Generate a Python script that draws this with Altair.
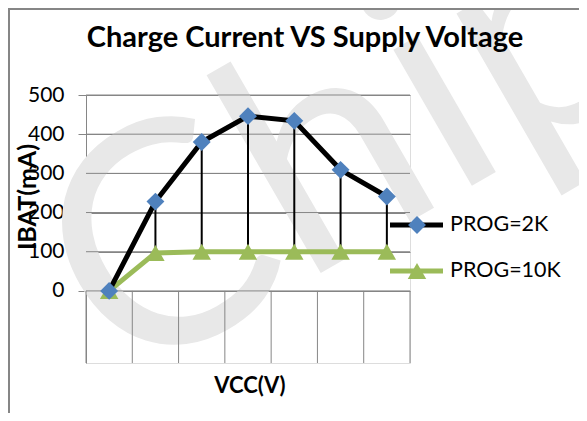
import altair as alt
import pandas as pd

categories = ["1", "2", "3", "4", "5", "6", "7"]
prog_2k = [0, 228, 380, 446, 434, 309, 241]
prog_10k = [0, 97, 100, 100, 100, 100, 100]
y_ticks = [0, 100, 200, 300, 400, 500]
boundaries = [0, 1, 2, 3, 4, 5, 6, 7]
series_names = ["PROG=2K", "PROG=10K"]

FONT = "Lato"
GRAY = "#868686"
BLUE = "#4F81BD"
GREEN = "#9BBB59"

df = pd.DataFrame({
    "cat": categories,
    "pos": [i + 0.5 for i in range(len(categories))],
    "k2": prog_2k,
    "k10": prog_10k,
})
bdf = pd.DataFrame({"b": boundaries})

W, H = 324, 268
xs = alt.Scale(domain=[0, 7], nice=False, zero=False)
ys = alt.Scale(domain=[-184, 500], nice=False, zero=False)

base = alt.Chart(df)

yaxis = alt.Axis(values=y_ticks, title=None, grid=True, gridColor=GRAY, gridWidth=1,
                 domain=True, domainColor=GRAY, domainWidth=1,
                 ticks=True, tickColor=GRAY, tickSize=8,
                 labelFont=FONT, labelFontSize=21, labelColor="black", labelPadding=14)

watermark = alt.Chart(pd.DataFrame({"t": ["Chip"]})).mark_text(
    font=FONT, fontSize=310, fontWeight=400, angle=330, color="#e8e8e8", align="center", baseline="middle"
).encode(x=alt.value(262), y=alt.value(55), text="t:N")

grid = alt.Chart(pd.DataFrame({"v": y_ticks})).mark_rule(color=GRAY, strokeWidth=1).encode(
    y=alt.Y("v:Q", scale=ys, axis=yaxis),
)

vlines = alt.Chart(bdf).mark_rule(color=GRAY, strokeWidth=1).encode(
    x=alt.X("b:Q", scale=xs, axis=None),
    y=alt.datum(0),
    y2=alt.datum(-184),
)

line2k = base.mark_line(color="black", strokeWidth=5).encode(
    x=alt.X("pos:Q", scale=xs, axis=None), y=alt.Y("k2:Q", scale=ys))
line10k = base.mark_line(color=GREEN, strokeWidth=5).encode(
    x=alt.X("pos:Q", scale=xs, axis=None), y=alt.Y("k10:Q", scale=ys))
hilo = base.mark_rule(color="black", strokeWidth=2).encode(
    x=alt.X("pos:Q", scale=xs, axis=None), y=alt.Y("k2:Q", scale=ys), y2="k10:Q")
pts2k = base.mark_point(shape="diamond", filled=True, color=BLUE, size=320, opacity=1).encode(
    x=alt.X("pos:Q", scale=xs, axis=None), y=alt.Y("k2:Q", scale=ys))
pts10k = base.mark_point(shape="triangle-up", filled=True, color=GREEN, size=340, opacity=1).encode(
    x=alt.X("pos:Q", scale=xs, axis=None), y=alt.Y("k10:Q", scale=ys))

# titles
title = alt.Chart(pd.DataFrame({"t": ["Charge Current VS Supply Voltage"]})).mark_text(
    font=FONT, fontSize=29, fontWeight="bold", color="black", align="center", baseline="alphabetic"
).encode(x=alt.value(219), y=alt.value(-48), text="t:N")
ytitle = alt.Chart(pd.DataFrame({"t": ["IBAT(mA)"]})).mark_text(
    font=FONT, fontSize=25, fontWeight="bold", color="black", align="center", baseline="middle", angle=270
).encode(x=alt.value(-58), y=alt.value(102), text="t:N")
xtitle = alt.Chart(pd.DataFrame({"t": ["VCC(V)"]})).mark_text(
    font=FONT, fontSize=22, fontWeight="bold", color="black", align="center", baseline="alphabetic"
).encode(x=alt.value(164), y=alt.value(298), text="t:N")

# legend
leg_y = [130, 176]
leg_colors = ["black", GREEN]
leg_shapes = ["diamond", "triangle-up"]
leg_layers = []
for name, ly, col, shp, mcol in zip(series_names, leg_y, leg_colors, leg_shapes, [BLUE, GREEN]):
    d = pd.DataFrame({"t": [name]})
    c = alt.Chart(d)
    leg_layers.append(c.mark_rule(color=col, strokeWidth=5).encode(
        x=alt.value(304), x2=alt.value(357), y=alt.value(ly)))
    leg_layers.append(c.mark_point(shape=shp, filled=True, color=mcol, size=320 if shp == "diamond" else 340, opacity=1).encode(
        x=alt.value(331), y=alt.value(ly)))
    leg_layers.append(c.mark_text(font=FONT, fontSize=21.5, color="black", align="left", baseline="middle").encode(
        x=alt.value(364), y=alt.value(ly), text="t:N"))

# chart area border
border_top = alt.Chart(pd.DataFrame({"a": [0]})).mark_rule(color=GRAY, strokeWidth=2).encode(
    x=alt.value(-78), x2=alt.value(501), y=alt.value(-86))
border_left = alt.Chart(pd.DataFrame({"a": [0]})).mark_rule(color=GRAY, strokeWidth=2).encode(
    x=alt.value(-77), y=alt.value(-86), y2=alt.value(330))

chart = alt.layer(
    watermark, grid, vlines, line10k, line2k, hilo, pts10k, pts2k,
    title, ytitle, xtitle, border_top, border_left, *leg_layers
).properties(
    width=W, height=H,
    autosize=alt.AutoSizeParams(type="none"),
    padding={"left": 78, "top": 87, "right": 169, "bottom": 50},
).configure_view(stroke=None).configure(background="white")

chart.save("out.html", embed_options={"renderer": "svg", "actions": False})
